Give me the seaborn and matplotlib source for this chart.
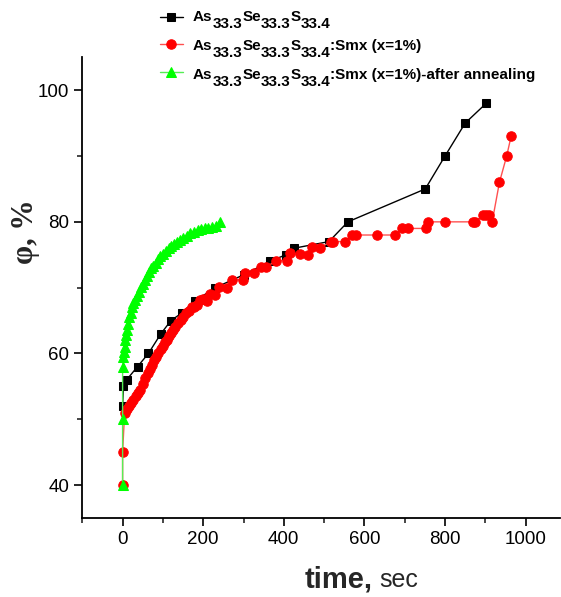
import matplotlib
matplotlib.use("Agg")
import matplotlib.pyplot as plt
import matplotlib.transforms as mtransforms
import seaborn as sns
from matplotlib.ticker import MultipleLocator

sns.set_style("ticks")
plt.rcParams['font.family'] = ['Liberation Sans', 'DejaVu Sans']

# ---- data ----
black_t = [0, 2, 10, 37, 64, 95, 120, 148, 180, 230, 302, 366, 405, 426, 512,
           559, 751, 800, 850, 902]
black_phi = [52, 55, 56, 58, 60, 63, 65, 66.2, 68, 70, 72, 74, 75, 76, 77,
             80, 85, 90, 95, 98]

red_t = [0, 0, 5, 10, 15, 20, 27, 33, 39, 44, 50, 56, 62, 68, 73, 79, 84, 89,
         95, 100, 105, 110, 115, 120, 125, 130, 137, 144, 151, 158, 165, 172,
         176, 185, 192, 200, 209, 218, 230, 240, 260, 271, 298, 304, 326, 343,
         357, 380, 407, 415, 440, 460, 469, 489, 518, 522, 551, 568, 580, 631,
         675, 694, 708, 752, 758, 801, 869, 875, 894, 902, 910, 917, 935, 953,
         964]
red_phi = [40, 45, 51, 51.5, 52, 52.5, 53, 53.6, 54, 54.5, 55.4, 56.2, 57,
           57.6, 58.2, 59, 59.5, 60, 60.7, 61.2, 61.7, 62, 62.6, 63.1, 63.5,
           64, 64.6, 65.1, 65.6, 66.2, 66.5, 67, 67.1, 67.4, 68.1, 68.3, 67.9,
           69.1, 68.9, 70.1, 70, 71.2, 71.2, 72.2, 72.2, 73.2, 73.1, 74.1,
           74.1, 75.2, 75.1, 75, 76.2, 76.1, 77, 77, 77, 78, 78, 78, 78, 79,
           79, 79, 80, 80, 80, 80, 81, 81, 81, 80, 86, 90, 93]

green_t = [0, 0, 0, 2, 3, 5, 7, 9, 11, 14, 17, 20, 23, 27, 31, 35, 40, 45, 50,
           55, 60, 65, 70, 76, 82, 88, 94, 100, 107, 114, 121, 128, 135, 143,
           151, 159, 168, 177, 186, 195, 204, 213, 222, 231, 242]
green_phi = [40, 50, 58, 59.5, 60.3, 61, 62, 62.8, 63.5, 64.5, 65.5, 66.2, 67,
             67.6, 68.2, 68.7, 69.4, 70.1, 70.6, 71.2, 71.8, 72.4, 73.0, 73.3,
             73.8, 74.3, 74.8, 75.1, 75.6, 76.0, 76.4, 76.7, 77.0, 77.2, 77.5,
             77.9, 78.3, 78.5, 78.7, 78.9, 79.0, 79.1, 79.2, 79.3, 80]

# legend labels as (text, is_subscript) pieces
base = [('As', False), ('33.3', True), ('Se', False), ('33.3', True),
        ('S', False), ('33.4', True)]
label_parts = [base,
               base + [(':Smx (x=1%)', False)],
               base + [(':Smx (x=1%)-after annealing', False)]]

fig = plt.figure(figsize=(5.61, 5.97), dpi=100)
ax = fig.add_axes([0.1467, 0.1323, 0.8513, 0.7717])

sns.lineplot(x=black_t, y=black_phi, ax=ax, sort=False, estimator=None,
             color='black', lw=1.0, marker='s', markersize=5.2,
             markerfacecolor='black', markeredgecolor='black', label='s1')
sns.lineplot(x=red_t, y=red_phi, ax=ax, sort=False, estimator=None,
             color='#ff5050', lw=1.0, marker='o', markersize=6.8,
             markerfacecolor='red', markeredgecolor='red', label='s2')
sns.lineplot(x=green_t, y=green_phi, ax=ax, sort=False, estimator=None,
             color='#55ee55', lw=1.0, marker='^', markersize=7,
             markerfacecolor='#00ff00', markeredgecolor='#00ff00', label='s3')

ax.set_xlim(-100, 1085)
ax.set_ylim(35, 105)
ax.xaxis.set_major_locator(MultipleLocator(200))
ax.xaxis.set_minor_locator(MultipleLocator(100))
ax.yaxis.set_major_locator(MultipleLocator(20))
ax.yaxis.set_minor_locator(MultipleLocator(10))
ax.tick_params(which='major', direction='out', length=6, width=1.2,
               labelsize=13.5, colors='black')
ax.tick_params(which='minor', direction='out', length=3.5, width=1.2)
sns.despine(ax=ax)
for s in ['left', 'bottom']:
    ax.spines[s].set_linewidth(1.3)
    ax.spines[s].set_color('black')
ax.set_xlabel('')
ax.set_ylabel('')

h, l = ax.get_legend_handles_labels()
ax.legend_.remove()
leg = fig.legend(h, [' ', ' ', ' '], loc='upper left',
                 bbox_to_anchor=(153 / 561, 1 - 4 / 597),
                 frameon=False, prop={'family': 'Liberation Sans',
                                      'weight': 'bold', 'size': 12},
                 handlelength=1.4, handletextpad=0.5, labelspacing=0.75,
                 borderaxespad=0)

# legend text with full-size subscripts
renderer = fig.canvas.get_renderer()
ident = mtransforms.IdentityTransform()
H = 597
baselines = [21, 50, 79]
for parts, yb in zip(label_parts, baselines):
    x = 193
    for s, sub in parts:
        y = H - yb - (7 if sub else 0)
        t = fig.text(x, y, s, transform=ident, ha='left', va='baseline',
                     fontsize=11, fontweight='bold', color='black')
        x += t.get_window_extent(renderer).width

fig.text(25 / 561, 1 - 232 / 597, 'φ, %', rotation=90, ha='center',
         va='center', fontsize=22, fontweight='bold',
         family=['Liberation Serif', 'DejaVu Serif'])
fig.text(373 / 561, 1 - 580 / 597, 'time,', ha='right', va='center',
         fontsize=21, fontweight='bold')
fig.text(379 / 561, 1 - 580 / 597, 'sec', ha='left', va='center',
         fontsize=18)

fig.savefig('out.png', dpi=100)
